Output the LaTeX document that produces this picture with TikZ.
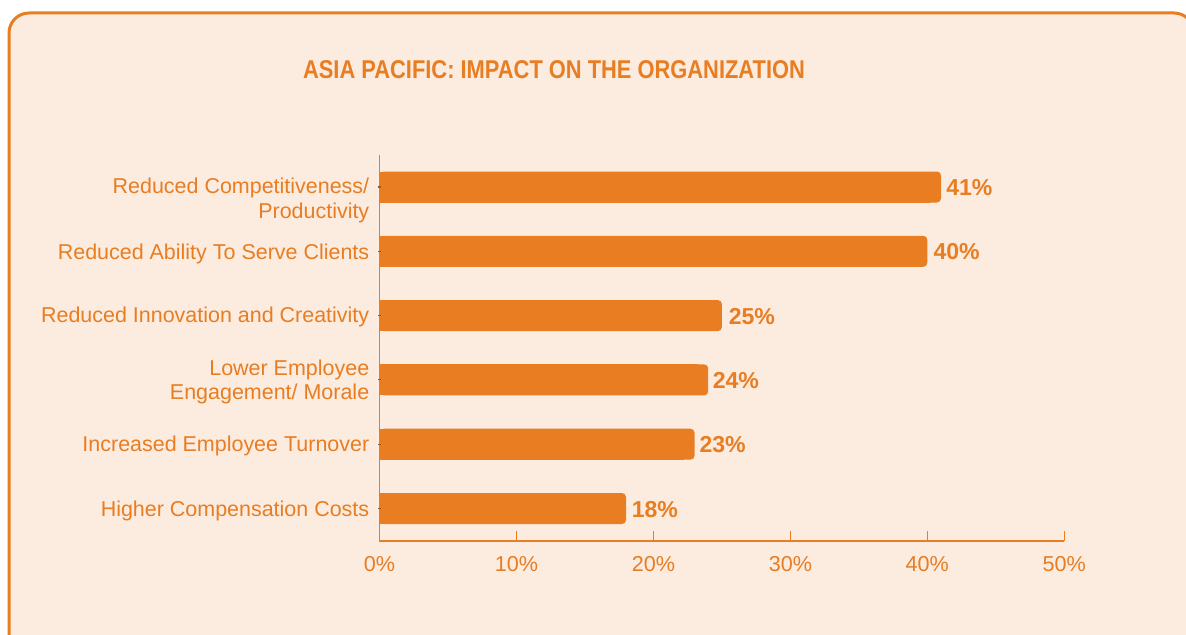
\documentclass[tikz,border=0pt]{standalone}
\usepackage{fontspec}
\setmainfont{Liberation Sans}
\definecolor{apOrange}{HTML}{E87D22}
\definecolor{apBack}{HTML}{FCEBDF}
\definecolor{apDark}{HTML}{9A5A20}
\begin{document}
\begin{tikzpicture}[x=0.75pt,y=0.75pt,
		catlbl/.style={anchor=base east, font=\fontsize{16.1}{18}\selectfont},
		vallbl/.style={anchor=base west, font=\fontsize{17.3}{20}\selectfont\bfseries},
		axlbl/.style={anchor=base, font=\fontsize{16.2}{19}\selectfont}]
	\tikzstyle{every node}+=[inner sep=0pt, text=apOrange]
	\useasboundingbox (0,0) rectangle (1186,-635);
	% panel
	\draw [apOrange, line width=2.25pt, fill=apBack, rounded corners=15pt] (9,-13) rectangle (1194,-665);
	\node [anchor=base, font=\fontsize{19.3}{22}\selectfont\bfseries] (title) at (554,-78.3) {\scalebox{0.85}[1]{ASIA PACIFIC: IMPACT ON THE ORGANIZATION}};
	% bars
	\fill [apOrange, rounded corners=3pt] (380,-171.5) rectangle (941,-202.5);
	\fill [apOrange] (380,-171.5) rectangle (930,-202.5);
	\fill [apOrange, rounded corners=3pt] (380,-235.8) rectangle (927.3,-266.8);
	\fill [apOrange] (380,-235.8) rectangle (917,-266.8);
	\fill [apOrange, rounded corners=3pt] (380,-300.1) rectangle (721.9,-331.1);
	\fill [apOrange] (380,-300.1) rectangle (711,-331.1);
	\fill [apOrange, rounded corners=3pt] (380,-364.4) rectangle (708.2,-395.4);
	\fill [apOrange] (380,-364.4) rectangle (698,-395.4);
	\fill [apOrange, rounded corners=3pt] (380,-428.7) rectangle (694.5,-459.7);
	\fill [apOrange] (380,-428.7) rectangle (684,-459.7);
	\fill [apOrange, rounded corners=3pt] (380,-493) rectangle (626,-524);
	\fill [apOrange] (380,-493) rectangle (616,-524);
	% axes
	\draw [apOrange, line width=1.1pt] (379.5,-155) -- (379.5,-541) -- (1064.3,-541);
	\draw [apOrange, line width=1.1pt] (516.5,-531) -- (516.5,-541);
	\draw [apOrange, line width=1.1pt] (653.4,-531) -- (653.4,-541);
	\draw [apOrange, line width=1.1pt] (790.4,-531) -- (790.4,-541);
	\draw [apOrange, line width=1.1pt] (927.3,-531) -- (927.3,-541);
	\draw [apOrange, line width=1.1pt] (1064.3,-531) -- (1064.3,-541);
	\draw [apDark, line width=0.8pt] (377.5,-187) -- (380.5,-187);
	\draw [apDark, line width=0.8pt] (377.5,-251.3) -- (380.5,-251.3);
	\draw [apDark, line width=0.8pt] (377.5,-315.6) -- (380.5,-315.6);
	\draw [apDark, line width=0.8pt] (377.5,-379.9) -- (380.5,-379.9);
	\draw [apDark, line width=0.8pt] (377.5,-444.2) -- (380.5,-444.2);
	\draw [apDark, line width=0.8pt] (377.5,-508.5) -- (380.5,-508.5);
	% category labels
	\node [catlbl] (comp) at (369.5,-193.3) {Reduced Competitiveness/};
	\node [catlbl] (prod) at (369.5,-218) {Productivity};
	\node [catlbl] (serve) at (369.5,-259.1) {Reduced Ability To Serve Clients};
	\node [catlbl] (innov) at (369.5,-322.6) {Reduced Innovation and Creativity};
	\node [catlbl] (lower) at (369.5,-375.3) {Lower Employee};
	\node [catlbl] (engage) at (369.5,-399.3) {Engagement/ Morale};
	\node [catlbl] (turn) at (369.5,-451.8) {Increased Employee Turnover};
	\node [catlbl] (comp costs) at (369.5,-516.1) {Higher Compensation Costs};
	% values
	\node [vallbl] (v41) at (946,-195.5) {41\%};
	\node [vallbl] (v40) at (933.3,-259.8) {40\%};
	\node [vallbl] (v25) at (728.5,-324.1) {25\%};
	\node [vallbl] (v24) at (712.5,-388.4) {24\%};
	\node [vallbl] (v23) at (699.3,-452.7) {23\%};
	\node [vallbl] (v18) at (631.5,-517) {18\%};
	% axis labels
	\node [axlbl] (t0) at (379.5,-571.5) {0\%};
	\node [axlbl] (t10) at (516.5,-571.5) {10\%};
	\node [axlbl] (t20) at (653.4,-571.5) {20\%};
	\node [axlbl] (t30) at (790.4,-571.5) {30\%};
	\node [axlbl] (t40) at (927.3,-571.5) {40\%};
	\node [axlbl] (t50) at (1064.3,-571.5) {50\%};
\end{tikzpicture}
\end{document}
